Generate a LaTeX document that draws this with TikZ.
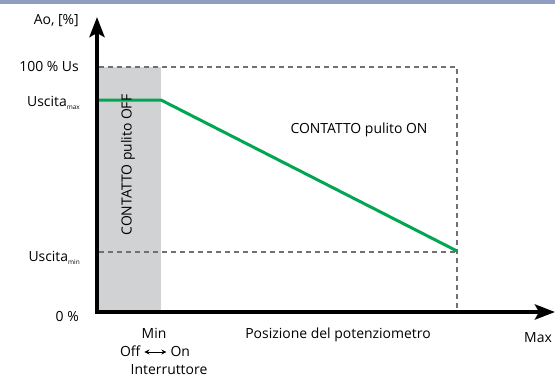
\documentclass[tikz,border=0pt]{standalone}
\usepackage{fontspec}
\setmainfont{Open Sans}
\usetikzlibrary{arrows.meta}
\definecolor{band}{HTML}{8E9DC0}
\definecolor{offzone}{HTML}{D1D2D4}
\definecolor{curve}{HTML}{00A651}
\definecolor{guidegray}{HTML}{707070}
\newcommand{\lowsub}[1]{\raisebox{-3.5bp}{\fontsize{6.5}{7}\selectfont #1}}
\begin{document}
\begin{tikzpicture}[x=1bp,y=-1bp,
  lbl/.style={font=\fontsize{14}{16}\selectfont, inner sep=0pt},
  guide/.style={draw=guidegray, line width=1.3bp, dash pattern=on 5bp off 4bp},
  axis/.style={line width=4.5bp, -{Stealth[length=20bp,width=15bp,inset=4bp]}}]
\useasboundingbox (0,0) rectangle (555,376);
\fill[band] (0,0) rectangle (555,4);
% shaded region
\fill[offzone] (99,67) rectangle (161,310);
% guides
\coordinate (tl) at (99,67);
\coordinate (tr) at (457,67);
\coordinate (br) at (457,310);
\coordinate (ml) at (99,252);
\coordinate (mr) at (457,252);
\draw[guide] (tl) -- (tr) -- (br);
\draw[guide] (ml) -- (mr);
% curve
\coordinate (c0) at (99,100);
\coordinate (c1) at (161,100);
\coordinate (c2) at (457,251);
\draw[curve, line width=3bp] (c0) -- (c1) -- (c2);
% axes
\coordinate (ybot) at (97,314.2);
\coordinate (ytop) at (97,17);
\coordinate (xbeg) at (94.8,312);
\coordinate (xend) at (555,312);
\draw[axis] (ybot) -- (ytop);
\draw[axis] (xbeg) -- (xend);
% labels
\node[lbl, anchor=east] (ao) at (79,21) {Ao, [\%]};
\node[lbl, anchor=east] (us) at (79,67) {100 \% Us};
\node[lbl, anchor=base east] (umax) at (80,106) {Uscita\lowsub{max}};
\node[lbl, anchor=base east] (umin) at (80,261) {Uscita\lowsub{min}};
\node[lbl, anchor=east] (zero) at (79,317) {0 \%};
\node[lbl, anchor=base] (min) at (154,338) {Min};
\node[lbl, anchor=base] (sw) at (155,356) {Off \tikz[baseline=-4bp]\draw[{Stealth[length=5bp,width=5bp]}-{Stealth[length=5bp,width=5bp]}, line width=1bp] (0,0) -- (22bp,0); On};
\node[lbl, anchor=base] (int) at (169,374) {Interruttore};
\node[lbl, anchor=base] (pos) at (338,338) {Posizione del potenziometro};
\node[lbl, anchor=base] (max) at (538,342) {Max};
\node[lbl] (on) at (359,130) {CONTATTO pulito ON};
\node[lbl, rotate=90] (off) at (128,165) {CONTATTO pulito OFF};
\end{tikzpicture}
\end{document}
